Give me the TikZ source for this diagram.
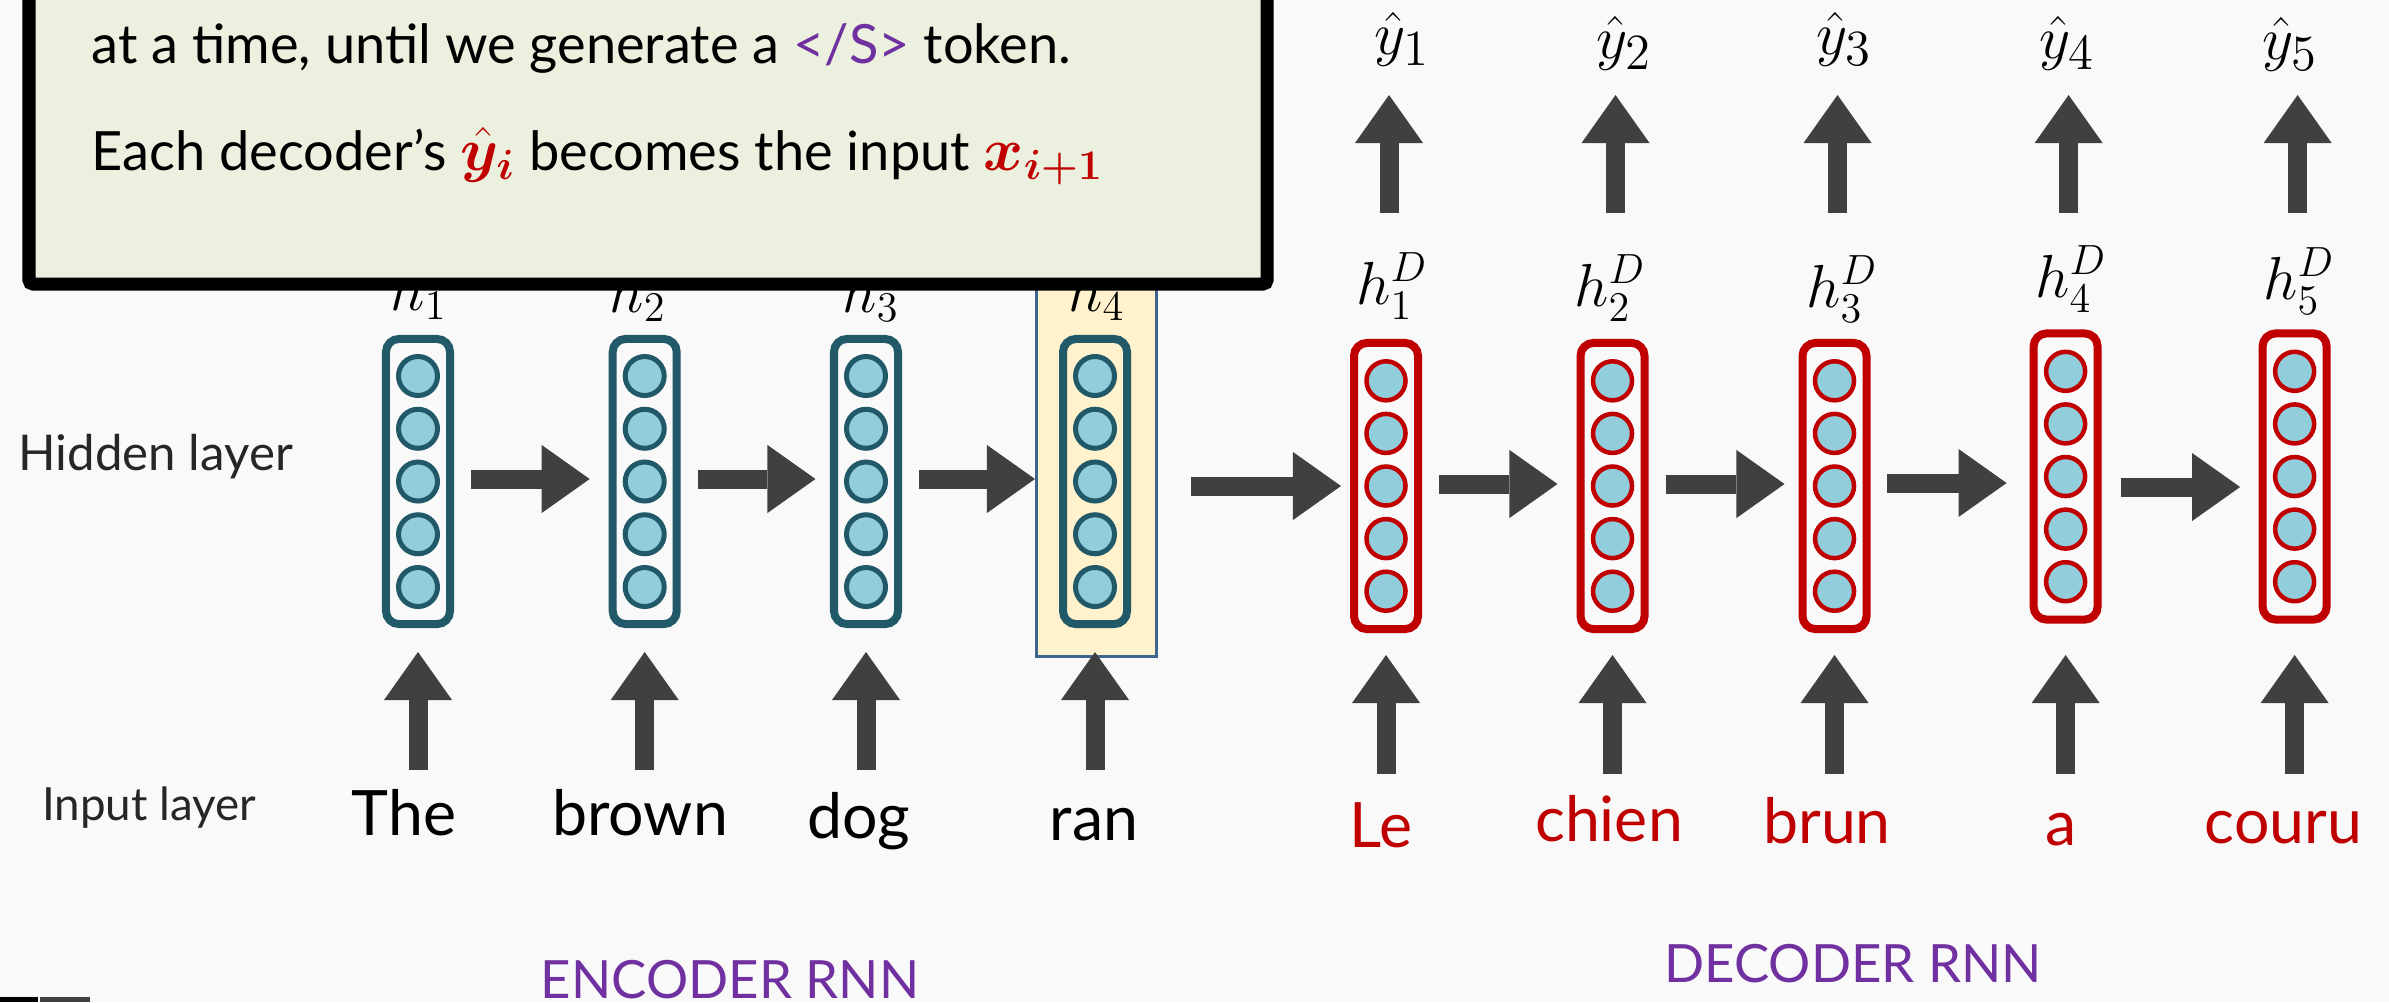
\documentclass[tikz,border=0pt]{standalone}
\usepackage{amsmath,bm}
\usepackage[no-math]{fontspec}
\setmainfont{Lato}
\usetikzlibrary{arrows.meta}
\definecolor{bgc}{RGB}{249,249,249}
\definecolor{encteal}{RGB}{33,89,104}
\definecolor{decred}{RGB}{192,0,0}
\definecolor{unitblue}{RGB}{146,205,220}
\definecolor{arrowgray}{RGB}{64,64,64}
\definecolor{boxgreen}{RGB}{235,241,222}
\definecolor{hlfill}{RGB}{255,242,204}
\definecolor{hlline}{RGB}{62,100,145}
\definecolor{rnnpurple}{RGB}{112,48,160}
\definecolor{lblgray}{RGB}{38,38,38}
\newcommand{\fsz}[1]{\fontsize{#1}{#1}\selectfont}
\begin{document}
\begin{tikzpicture}[x=0.01cm,y=-0.01cm,
  encbox/.style={draw=encteal,line width=0.08cm,rounded corners=0.13cm,minimum width=0.64cm,minimum height=2.85cm,inner sep=0pt},
  decbox/.style={draw=decred,line width=0.08cm,rounded corners=0.13cm,minimum width=0.64cm,minimum height=2.86cm,inner sep=0pt},
  encunit/.style={circle,draw=encteal,line width=0.05cm,fill=unitblue,minimum size=0.39cm,inner sep=0pt},
  decunit/.style={circle,draw=decred,line width=0.045cm,fill=unitblue,minimum size=0.39cm,inner sep=0pt},
  blockarrow/.style={draw=arrowgray,line width=0.19cm,-{Triangle[length=0.48cm,width=0.68cm,line width=0pt]}},
  mathlbl/.style={anchor=base,inner sep=0pt,font=\fsz{17.5}},
  outlbl/.style={anchor=base,inner sep=0pt,font=\fsz{19}},
  wordlbl/.style={anchor=base,inner sep=0pt,font=\fsz{17.8}},
  sidelbl/.style={anchor=base west,inner sep=0pt,text=lblgray},
  rnnlbl/.style={anchor=base,inner sep=0pt,text=rnnpurple,font=\fsz{15}},
  boxtext/.style={anchor=base west,inner sep=0pt,font=\fsz{15.4}}
]
\fill[bgc] (0,0) rectangle (2389,1002);
\useasboundingbox (0,0) rectangle (2389,1002);
\clip (0,0) rectangle (2389,1002);

% highlight around last encoder step
\node[draw=hlline,fill=hlfill,line width=0.03cm,minimum width=1.20cm,minimum height=4.05cm,inner sep=0pt] (hl) at (1096.5,454) {};

% encoder columns
\foreach \i/\x in {1/418,2/644.7,3/866,4/1095}{
  \node[encbox] (e\i) at (\x,481.5) {};
  \foreach \k in {0,...,4}{
    \node[encunit] (e\i u\k) at (\x,{481.5+(\k-2)*52.75}) {};
  }
}
% decoder columns
\foreach \i/\x/\y in {1/1386/486,2/1612.5/486,3/1834.5/486,4/2065.6/476.5,5/2294.6/476.5}{
  \node[decbox] (d\i) at (\x,\y) {};
  \foreach \k in {0,...,4}{
    \node[decunit] (d\i u\k) at (\x,{\y+(\k-2)*52.6}) {};
  }
}

% horizontal arrows
\draw[blockarrow] ([xshift=0.165cm,yshift=0.025cm]e1.east) -- ([xshift=-0.19cm,yshift=0.025cm]e2.west);
\draw[blockarrow] ([xshift=0.17cm,yshift=0.025cm]e2.east) -- ([xshift=-0.145cm,yshift=0.025cm]e3.west);
\coordinate (e3r) at ([yshift=0.025cm]e3.east);
\draw[blockarrow] ([xshift=0.17cm]e3r) -- (hl.west |- e3r);
\coordinate (hlr) at (hl.east |- d1.west);
\draw[blockarrow] ([xshift=0.33cm]hlr) -- ([xshift=-0.09cm]d1.west);
\draw[blockarrow] ([xshift=0.17cm,yshift=0.02cm]d1.east) -- ([xshift=-0.19cm,yshift=0.02cm]d2.west);
\draw[blockarrow] ([xshift=0.17cm,yshift=0.02cm]d2.east) -- ([xshift=-0.14cm,yshift=0.02cm]d3.west);
\coordinate (d3r) at ([yshift=0.03cm]d3.east);
\coordinate (d4l) at (d4.west |- d3r);
\draw[blockarrow] ([xshift=0.165cm]d3r) -- ([xshift=-0.23cm]d4l);
\draw[blockarrow] ([xshift=0.195cm,yshift=-0.105cm]d4.east) -- ([xshift=-0.185cm,yshift=-0.105cm]d5.west);

% vertical arrows
\coordinate (inbase) at (0,770);
\coordinate (intip) at (0,652);
\coordinate (dinbase) at (0,774);
\coordinate (dintip) at (0,655);
\coordinate (outbase) at (0,213);
\coordinate (outtip) at (0,95);
\foreach \i in {1,...,4}{
  \draw[blockarrow] (e\i |- inbase) -- (e\i |- intip);
}
\foreach \i in {1,...,5}{
  \draw[blockarrow] (d\i |- dinbase) -- (d\i |- dintip);
  \coordinate (ob\i) at (d\i |- outbase);
  \coordinate (ot\i) at (d\i |- outtip);
  \draw[blockarrow] ([xshift=0.03cm]ob\i) -- ([xshift=0.03cm]ot\i);
}

% hidden state labels
\node[mathlbl] (h1) at (419,310) {$h_1$};
\node[mathlbl] (h2) at (638,312) {$h_2$};
\node[mathlbl] (h3) at (871,312) {$h_3$};
\node[mathlbl] (h4) at (1096.6,311) {$h_4$};
\node[mathlbl] (hd1) at (1392,304) {$h_1^D$};
\node[mathlbl] (hd2) at (1610,306) {$h_2^D$};
\node[mathlbl] (hd3) at (1842,307) {$h_3^D$};
\node[mathlbl] (hd4) at (2071,297) {$h_4^D$};
\node[mathlbl] (hd5) at (2299,299) {$h_5^D$};
% outputs
\node[outlbl] (y1) at (1402,54) {$\hat{y}_1$};
\node[outlbl] (y2) at (1624,58) {$\hat{y}_2$};
\node[outlbl] (y3) at (1844,54) {$\hat{y}_3$};
\node[outlbl] (y4) at (2067,58) {$\hat{y}_4$};
\node[outlbl] (y5) at (2290,59) {$\hat{y}_5$};

% input words
\node[wordlbl] (w1) at (404,835) {The};
\node[wordlbl] (w2) at (640,835) {brown};
\node[wordlbl] (w3) at (859,838) {dog};
\node[wordlbl] (w4) at (1094,840) {ran};
\node[wordlbl,text=decred] (f1) at (1381,847) {Le};
\node[wordlbl,text=decred] (f2) at (1609,841) {chien};
\node[wordlbl,text=decred] (f3) at (1827,843) {brun};
\node[wordlbl,text=decred] (f4) at (2061,845) {a};
\node[wordlbl,text=decred] (f5) at (2283.5,843) {couru};

% side labels
\node[sidelbl,font=\fsz{14}] (hidden) at (18,470) {Hidden layer};
\node[sidelbl,font=\fsz{13}] (input) at (41.5,820) {Input layer};

% section labels
\node[rnnlbl] (enc) at (730,998) {ENCODER RNN};
\node[rnnlbl] (dec) at (1853,982) {DECODER RNN};

% callout box
\draw[line width=0.13cm,fill=boxgreen,rounded corners=0.04cm] (29,-80) rectangle (1267,284);
\node[boxtext] (t1) at (91,63) {at a time, until we generate a \textcolor{rnnpurple}{</S>} token.};
\node[boxtext] (t2) at (91,170) {Each decoder’s \textcolor{decred}{\fsz{17.5}$\hat{\bm{y}}_{\bm{i}}$} becomes the input \textcolor{decred}{\fsz{17.5}$\bm{x}_{\bm{i+1}}$}};

% small artefact at bottom left
\fill[black] (0,997) rectangle (38,1002);
\fill[arrowgray] (40,997) rectangle (90,1002);
\end{tikzpicture}
\end{document}
